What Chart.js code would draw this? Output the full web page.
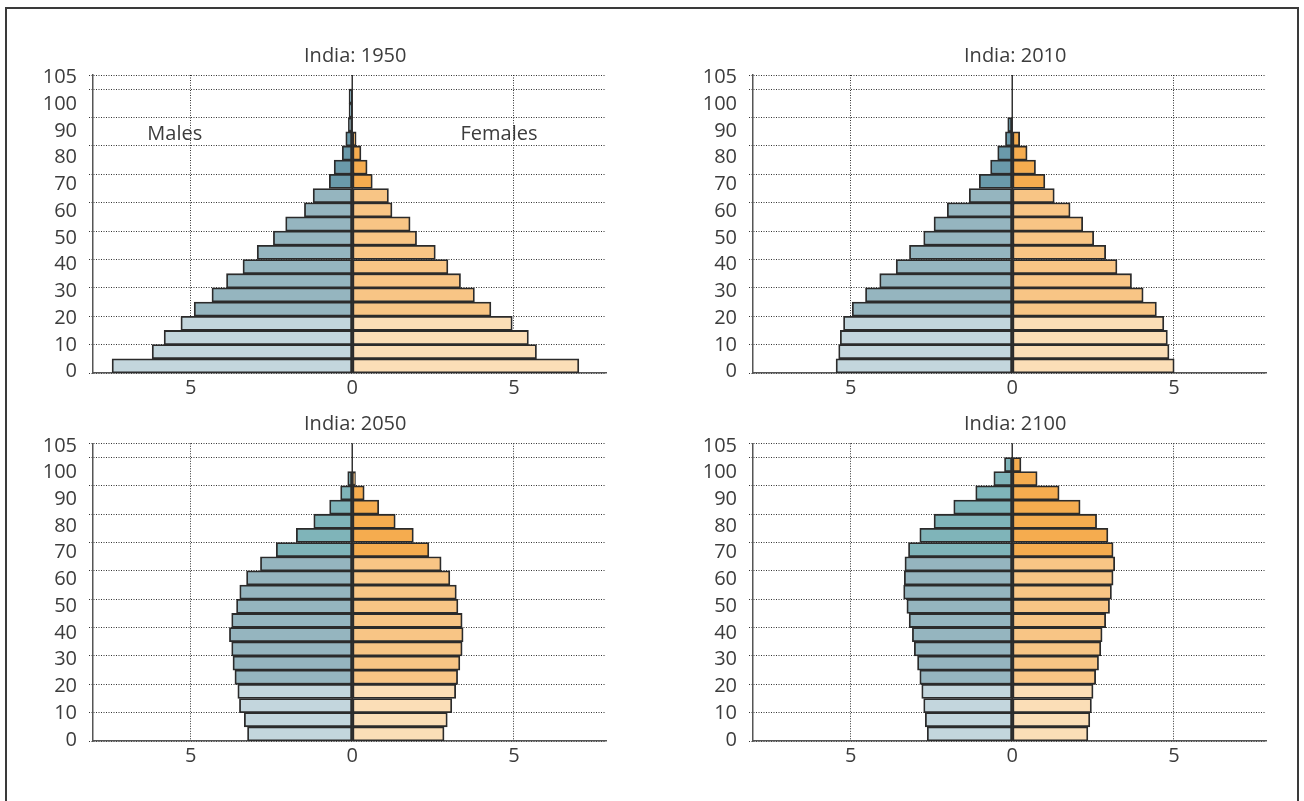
<!DOCTYPE html>
<html>
<head>
<meta charset="utf-8">
<title>India population pyramids</title>
<script src="https://cdn.jsdelivr.net/npm/chart.js@4.4.1/dist/chart.umd.min.js"></script>
<style>
  body { margin: 0; background: #fff; width: 1304px; height: 801px; overflow: hidden; position: relative; }
  .frame { position: absolute; left: 5px; top: 7px; width: 1290px; height: 830px; border: 2px solid #3a3a3a; }
  canvas { position: absolute; }
</style>
</head>
<body>
<div class="frame"></div>
<canvas id="c1950" width="640" height="375" style="left:0px;top:35px;width:640px;height:375px"></canvas>
<canvas id="c2010" width="640" height="375" style="left:660px;top:35px;width:640px;height:375px"></canvas>
<canvas id="c2050" width="640" height="368" style="left:0px;top:410px;width:640px;height:368px"></canvas>
<canvas id="c2100" width="640" height="368" style="left:660px;top:410px;width:640px;height:368px"></canvas>
<script>
// Age groups (start of each 5-year band), 100 = 100+
const ageStart = [0, 5, 10, 15, 20, 25, 30, 35, 40, 45, 50, 55, 60, 65, 70, 75, 80, 85, 90, 95, 100];
const ageGroups = ['0-4', '5-9', '10-14', '15-19', '20-24', '25-29', '30-34', '35-39', '40-44', '45-49',
    '50-54', '55-59', '60-64', '65-69', '70-74', '75-79', '80-84', '85-89', '90-94', '95-99', '100+'];

// Axis ticks
const yTicks = [0, 10, 20, 30, 40, 50, 60, 70, 80, 90, 100, 105];
const xTicks = [-5, 0, 5];

// Share of population (%) per age group
const males1950 = [7.43, 6.19, 5.82, 5.30, 4.89, 4.34, 3.89, 3.38, 2.94, 2.44, 2.06, 1.48, 1.21, 0.71, 0.56, 0.31, 0.20, 0.12, 0.10, 0.10, null];
const females1950 = [7.01, 5.70, 5.45, 4.95, 4.29, 3.78, 3.35, 2.96, 2.57, 1.99, 1.79, 1.23, 1.12, 0.62, 0.46, 0.27, 0.12, null, null, null, null];

const males2010 = [5.45, 5.37, 5.32, 5.22, 4.95, 4.54, 4.10, 3.59, 3.18, 2.74, 2.42, 2.01, 1.33, 1.02, 0.67, 0.45, 0.21, 0.14, null, null, null];
const females2010 = [5.01, 4.85, 4.80, 4.69, 4.46, 4.05, 3.69, 3.24, 2.89, 2.52, 2.18, 1.79, 1.30, 1.01, 0.72, 0.46, 0.23, null, null, null, null];

const males2050 = [3.24, 3.34, 3.49, 3.54, 3.63, 3.69, 3.73, 3.80, 3.73, 3.58, 3.48, 3.27, 2.84, 2.35, 1.73, 1.19, 0.70, 0.36, 0.14, null, null];
const females2050 = [2.84, 2.94, 3.08, 3.20, 3.26, 3.33, 3.40, 3.43, 3.40, 3.27, 3.22, 3.02, 2.75, 2.37, 1.89, 1.33, 0.82, 0.37, 0.10, null, null];

const males2100 = [2.63, 2.69, 2.74, 2.80, 2.86, 2.93, 3.03, 3.09, 3.19, 3.26, 3.36, 3.34, 3.32, 3.21, 2.86, 2.42, 1.81, 1.13, 0.57, 0.24, null];
const females2100 = [2.34, 2.40, 2.45, 2.50, 2.58, 2.67, 2.74, 2.78, 2.89, 3.01, 3.07, 3.12, 3.17, 3.12, 2.96, 2.61, 2.10, 1.45, 0.77, 0.27, null];

// Side labels on the first pyramid
const sexLabels = ['Males', 'Females'];

// Colours: young (0-19), working age (20-64), old (65+)
const maleYoung = '#c3d6dd';
const maleMid = '#95b5bf';
const maleOldDark = '#6a9aaa';
const maleOldTeal = '#7fb4b9';
const femaleYoung = '#fbdeb7';
const femaleMid = '#f8c585';
const femaleOld = '#f5ac4f';
const textColor = '#3c3c3c';
const fontFamily = "'Open Sans', 'Noto Sans', sans-serif";

Chart.defaults.font.family = fontFamily;
Chart.defaults.color = textColor;

// Pick a colour for each age band
function bandColours(young, mid, old) {
    return ageStart.map(a => a < 20 ? young : (a < 65 ? mid : old));
}

// Solid line at zero, behind the bars
const centerLine = {
    id: 'centerLine',
    beforeDatasetsDraw(chart) {
        const { ctx, chartArea, scales } = chart;
        const x0 = scales.x.getPixelForValue(0);
        ctx.save();
        ctx.strokeStyle = '#333';
        ctx.lineWidth = 1.5;
        ctx.beginPath();
        ctx.moveTo(x0, chartArea.top);
        ctx.lineTo(x0, chartArea.bottom);
        ctx.stroke();
        ctx.restore();
    }
};

// Panel title over the zero line, plus "Males" / "Females"
const panelText = {
    id: 'panelText',
    afterDraw(chart, args, opts) {
        const { ctx, scales, chartArea } = chart;
        ctx.save();
        ctx.font = '20px ' + fontFamily;
        ctx.fillStyle = textColor;
        ctx.textAlign = 'center';
        ctx.textBaseline = 'middle';
        ctx.fillText(opts.title, scales.x.getPixelForValue(0) + 3, chartArea.top - 19);
        if (opts.showSex) {
            // centred over the left / right half, level with the 85 line
            const yPos = scales.y.getPixelForValue(84);
            ctx.fillText(sexLabels[0], scales.x.getPixelForValue(-5.49), yPos);
            ctx.fillText(sexLabels[1], scales.x.getPixelForValue(4.54), yPos);
        }
        ctx.restore();
    }
};

function makePyramid(id, title, males, females, maleOld, topPad, showSex) {
    const ctx = document.getElementById(id).getContext('2d');
    const barStyle = {
        borderColor: '#2b2b2b',
        borderWidth: 1.8,
        borderSkipped: false,
        grouped: false,
        categoryPercentage: 1,
        barPercentage: 1
    };
    return new Chart(ctx, {
        type: 'bar',
        data: {
            labels: ageGroups,
            datasets: [
                Object.assign({
                    label: 'Males',
                    data: ageStart.map((a, i) => ({ x: males[i] == null ? null : -males[i], y: a + 2.5 })),
                    backgroundColor: bandColours(maleYoung, maleMid, maleOld)
                }, barStyle),
                Object.assign({
                    label: 'Females',
                    data: ageStart.map((a, i) => ({ x: females[i], y: a + 2.5 })),
                    backgroundColor: bandColours(femaleYoung, femaleMid, femaleOld)
                }, barStyle)
            ]
        },
        options: {
            indexAxis: 'y',
            responsive: false,
            animation: false,
            layout: { padding: { left: 0, right: 34, top: topPad, bottom: 0 } },
            plugins: {
                legend: { display: false },
                tooltip: { enabled: false },
                title: { display: false },
                panelText: { title: title, showSex: showSex }
            },
            scales: {
                x: {
                    type: 'linear',
                    min: -8.02,
                    max: 7.85,
                    afterBuildTicks: scale => { scale.ticks = xTicks.map(v => ({ value: v })); },
                    afterFit: scale => { scale.height = 37; },
                    ticks: {
                        color: textColor,
                        font: { size: 20 },
                        padding: 3,
                        autoSkip: false,
                        callback: v => Math.abs(v)
                    },
                    grid: {
                        color: c => c.tick && c.tick.value === 0 ? 'rgba(0,0,0,0)' : '#333',
                        lineWidth: 1,
                        drawTicks: false
                    },
                    border: { display: true, color: '#555', width: 1.5, dash: [1, 1.5] }
                },
                // age axis: gridlines and tick stubs
                y: {
                    type: 'linear',
                    min: 0,
                    max: 105,
                    offset: false,
                    weight: 0,
                    afterBuildTicks: scale => { scale.ticks = yTicks.map(v => ({ value: v })); },
                    afterFit: scale => { scale.width = 4; },
                    ticks: { display: false },
                    grid: {
                        offset: false,
                        color: '#333',
                        lineWidth: 1,
                        tickLength: 4,
                        tickBorderDash: [1, 1.5]
                    },
                    border: { display: true, color: '#555', width: 1.5, dash: [1, 1.5] }
                },
                // age labels: in the original the label column is set a little tighter than the grid
                yLabels: {
                    type: 'linear',
                    axis: 'y',
                    position: 'left',
                    weight: 1,
                    offset: false,
                    bounds: 'data',
                    min: -0.45,
                    max: 110.95,
                    afterDataLimits: scale => { scale.min = -0.45; scale.max = 110.95; },
                    afterBuildTicks: scale => {
                        scale.min = -0.45;
                        scale.max = 110.95;
                        scale.ticks = yTicks.map(v => ({ value: v === 105 ? 110 : v }));
                    },
                    afterTickToLabelConversion: scale => {
                        scale.ticks.forEach((t, i) => { t.label = String(yTicks[i]); });
                    },
                    afterFit: scale => { scale.width = 89; },
                    ticks: {
                        color: textColor,
                        font: { size: 20 },
                        padding: 12,
                        autoSkip: false
                    },
                    grid: { display: false, drawTicks: false },
                    border: { display: false }
                }
            }
        },
        plugins: [centerLine, panelText]
    });
}

makePyramid('c1950', 'India: 1950', males1950, females1950, maleOldDark, 40, true);
makePyramid('c2010', 'India: 2010', males2010, females2010, maleOldDark, 40, false);
makePyramid('c2050', 'India: 2050', males2050, females2050, maleOldTeal, 33.3, false);
makePyramid('c2100', 'India: 2100', males2100, females2100, maleOldTeal, 33.3, false);
</script>
</body>
</html>
